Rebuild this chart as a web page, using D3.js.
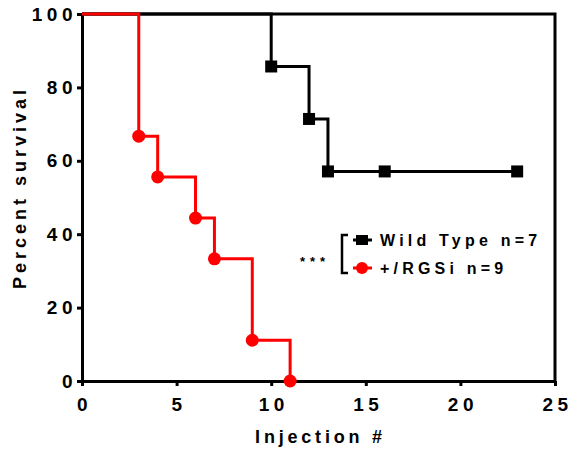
<!DOCTYPE html>
<html>
<head>
<meta charset="utf-8">
<script src="https://cdn.jsdelivr.net/npm/d3@7"></script>
<style>
  body { margin: 0; background: #fff; }
  text { font-family: "Liberation Sans", Arial, sans-serif; font-weight: bold; }
</style>
</head>
<body>
<div id="chart"></div>
<script>
// Kaplan-Meier steps
const wtTimes = [0, 10, 12, 13, 16, 23];
const wtSurvival = [100, 85.7, 71.4, 57.1, 57.1, 57.1];
const wtMarkers = [10, 12, 13, 16, 23];

const rgsTimes = [0, 3, 4, 6, 7, 9, 11];
const rgsSurvival = [100, 66.7, 55.6, 44.4, 33.3, 11.1, 0];
const rgsMarkers = [3, 4, 6, 7, 9, 11];

const xTicks = [0, 5, 10, 15, 20, 25];
const yTicks = [0, 20, 40, 60, 80, 100];

const seriesNames = ['Wild Type n=7', '+/RGSi n=9'];

const width = 574, height = 454;
const margin = { top: 14, right: 19, bottom: 73, left: 82 };

const svg = d3.select('#chart').append('svg')
  .attr('width', width)
  .attr('height', height);

const x = d3.scaleLinear().domain([0, 25]).range([margin.left, width - margin.right]);
const y = d3.scaleLinear().domain([0, 100]).range([height - margin.bottom, margin.top]);

// series data as points
const wt = wtTimes.map((t, i) => ({ t, s: wtSurvival[i] }));
const rgs = rgsTimes.map((t, i) => ({ t, s: rgsSurvival[i] }));

const line = d3.line().x(d => x(d.t)).y(d => y(d.s)).curve(d3.curveStepAfter);

// frame (top and right)
svg.append('path')
  .attr('d', `M${x(0)},${y(100)}H${x(25)}V${y(0)}`)
  .attr('fill', 'none').attr('stroke', '#000').attr('stroke-width', 3);

// axes
const xAxis = svg.append('g')
  .attr('transform', `translate(0,${y(0)})`)
  .call(d3.axisBottom(x).tickValues(xTicks).tickSize(5).tickSizeOuter(0));
const yAxis = svg.append('g')
  .attr('transform', `translate(${x(0)},0)`)
  .call(d3.axisLeft(y).tickValues(yTicks).tickSize(5).tickSizeOuter(0));

[xAxis, yAxis].forEach(g => {
  g.select('.domain').attr('stroke-width', 3);
  g.selectAll('.tick line').attr('stroke-width', 3);
  g.selectAll('.tick text')
    .attr('font-size', 19)
    .attr('font-family', '"Liberation Sans", Arial, sans-serif')
    .attr('font-weight', 'bold')
    .attr('fill', '#000')
    .style('letter-spacing', '4.5px');
});
xAxis.selectAll('.tick text').attr('dy', '1.15em').attr('dx', 2);
yAxis.selectAll('.tick text').attr('x', -5);

// series
svg.append('path').datum(wt)
  .attr('d', line).attr('fill', 'none').attr('stroke', '#000').attr('stroke-width', 3);
svg.append('path').datum(rgs)
  .attr('d', line).attr('fill', 'none').attr('stroke', '#ff0000').attr('stroke-width', 3);

svg.selectAll('.wt-marker')
  .data(wt.filter(d => wtMarkers.includes(d.t)))
  .enter().append('rect')
  .attr('x', d => x(d.t) - 6).attr('y', d => y(d.s) - 6)
  .attr('width', 12).attr('height', 12).attr('fill', '#000');

svg.selectAll('.rgs-marker')
  .data(rgs.filter(d => rgsMarkers.includes(d.t)))
  .enter().append('circle')
  .attr('cx', d => x(d.t)).attr('cy', d => y(d.s))
  .attr('r', 6.5).attr('fill', '#ff0000');

// axis titles
svg.append('text')
  .attr('x', (x(0) + x(25)) / 2 + 2).attr('y', 443)
  .attr('text-anchor', 'middle').attr('font-size', 18)
  .style('letter-spacing', '3.8px')
  .text('Injection #');

svg.append('text')
  .attr('transform', `translate(26,${(y(0) + y(100)) / 2 - 10}) rotate(-90)`)
  .attr('text-anchor', 'middle').attr('font-size', 18)
  .style('letter-spacing', '4px')
  .text('Percent survival');

// legend
const legend = svg.append('g');
const legY = [240, 268];
legend.append('path')
  .attr('d', `M348,${legY[0] - 5}H342V${legY[1] + 5}H348`)
  .attr('fill', 'none').attr('stroke', '#000').attr('stroke-width', 2.5);

legend.append('line')
  .attr('x1', 353).attr('x2', 372).attr('y1', legY[0]).attr('y2', legY[0])
  .attr('stroke', '#000').attr('stroke-width', 3);
legend.append('rect')
  .attr('x', 356).attr('y', legY[0] - 5).attr('width', 12).attr('height', 10).attr('fill', '#000');

legend.append('line')
  .attr('x1', 353).attr('x2', 372).attr('y1', legY[1]).attr('y2', legY[1])
  .attr('stroke', '#ff0000').attr('stroke-width', 3);
legend.append('circle')
  .attr('cx', 362).attr('cy', legY[1]).attr('r', 6).attr('fill', '#ff0000');

legend.selectAll('.lab')
  .data(seriesNames)
  .enter().append('text')
  .attr('x', 380).attr('y', (d, i) => legY[i] + 6)
  .attr('font-size', 16)
  .style('letter-spacing', '4.2px')
  .text(d => d);

legend.append('text')
  .attr('x', 300).attr('y', 266)
  .attr('font-size', 13).attr('font-weight', 'normal')
  .style('letter-spacing', '5px')
  .text('***');
</script>
</body>
</html>
